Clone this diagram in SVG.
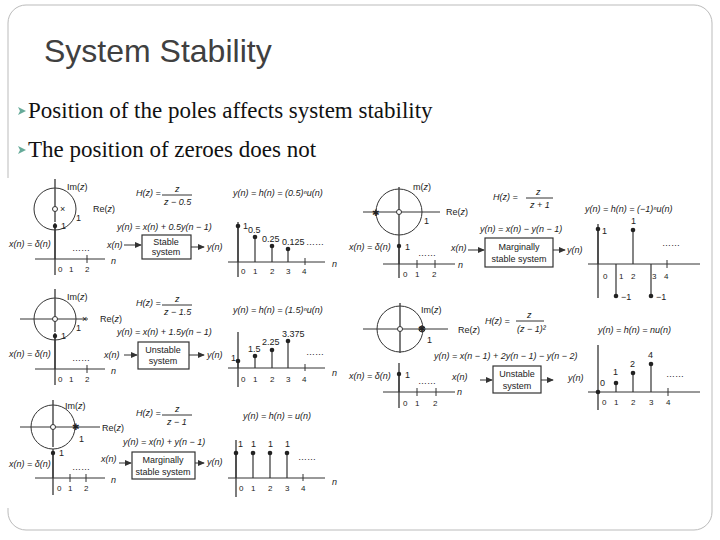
<svg xmlns="http://www.w3.org/2000/svg" width="720" height="540" viewBox="0 0 720 540">
<style>
.t{font-family:"Liberation Sans",Arial,sans-serif;font-size:9px;fill:#222}
.i{font-style:italic}
.s{font-size:8px}
.ln{stroke:#333;stroke-width:1;fill:none}
.ax{stroke:#444;stroke-width:1.4;fill:none}
.st{stroke:#333;stroke-width:1.2}
.box{fill:#fff;stroke:#333;stroke-width:1.2}
.bul{font-family:"Liberation Serif","Times New Roman",serif;font-size:23px;fill:#111}
</style>
<defs>
<marker id="ar" viewBox="0 0 8 8" refX="7" refY="4" markerWidth="7" markerHeight="7" orient="auto"><path d="M0,0.5L8,4L0,7.5z" fill="#333"/></marker>
</defs>
<rect x="8" y="5" width="704" height="525" rx="18" fill="#fff" stroke="#bbb" stroke-width="1"/>
<text x="44" y="62" style="font-family:'Liberation Sans',Arial,sans-serif;font-size:32px;fill:#404040">System Stability</text>
<g id="bullets">
<path d="M18,107l8,4l-8,4l2,-4z" fill="#6a9"/>
<text class="bul" x="28" y="118">Position of the poles affects system stability</text>
<path d="M18,146l8,4l-8,4l2,-4z" fill="#6a9"/>
<text class="bul" x="28" y="157">The position of zeroes does not</text>
</g>
<rect x="0" y="178" width="702" height="330" fill="#fff"/>

<g id="p1" transform="translate(0,175)">
<circle class="ln" cx="55" cy="34" r="21"/>
<line class="ax" x1="55" y1="4" x2="55" y2="47"/>
<circle cx="55" cy="34" r="2.5" fill="#fff" stroke="#333"/>
<text class="t" x="60" y="37">×</text>
<text class="t" x="67" y="15">Im(<tspan class="i">z</tspan>)</text>
<text class="t" x="93" y="37">Re(<tspan class="i">z</tspan>)</text>
<text class="t" x="76" y="46">1</text>
<text class="t i" x="136" y="21">H(z) =</text><text class="t i" x="175" y="17">z</text><line class="ln" x1="162" y1="20" x2="192" y2="20"/><text class="t i" x="164" y="30">z − 0.5</text>
<text class="t i" x="233" y="21">y(n) = h(n) = (0.5)ⁿu(n)</text>
<text class="t i" x="117" y="55">y(n) = x(n) + 0.5y(n − 1)</text>
<line class="ax" x1="55" y1="48" x2="55" y2="100"/><line class="ln" x1="35" y1="84" x2="105" y2="84"/>
<line class="st" x1="55" y1="51" x2="55" y2="84"/><circle cx="55" cy="51" r="2.2" fill="#222"/>
<text class="t" x="61" y="54">1</text><text class="t i" x="9" y="72">x(n) = δ(n)</text>
<line class="ln" x1="87" y1="80" x2="87" y2="88"/><text class="t" x="72" y="76">……</text>
<text class="t i" x="111" y="89">n</text>
<text class="t s" x="58" y="97">0</text><text class="t s" x="69" y="97">1</text><text class="t s" x="85" y="97">2</text>
<text class="t i" x="107" y="73">x(n)</text><line class="ln" x1="124" y1="70" x2="141" y2="70" marker-end="url(#ar)"/>
<rect class="box" x="142" y="60" width="49" height="24"/>
<text class="t" x="166" y="70" text-anchor="middle">Stable</text><text class="t" x="166" y="80" text-anchor="middle">system</text>
<line class="ln" x1="191" y1="72" x2="204" y2="72" marker-end="url(#ar)"/><text class="t i" x="207" y="75">y(n)</text>
<line class="ax" x1="238" y1="47" x2="238" y2="102"/><line class="ln" x1="228" y1="87" x2="325" y2="87"/>
<line class="st" x1="238" y1="51" x2="238" y2="87"/><circle cx="238" cy="51" r="2.3" fill="#222"/><text class="t" x="243" y="54">1</text>
<line class="st" x1="255" y1="62" x2="255" y2="87"/><circle cx="255" cy="62" r="2.3" fill="#222"/><text class="t" x="248" y="58">0.5</text>
<line class="st" x1="272" y1="71" x2="272" y2="87"/><circle cx="272" cy="71" r="2.3" fill="#222"/><text class="t" x="262" y="67">0.25</text>
<line class="st" x1="288" y1="74" x2="288" y2="87"/><circle cx="288" cy="74" r="2.3" fill="#222"/><text class="t" x="282" y="70">0.125</text>
<text class="t" x="306" y="70">……</text><line class="ln" x1="305" y1="83" x2="305" y2="90"/>
<text class="t i" x="332" y="92">n</text>
<text class="t s" x="241" y="99">0</text><text class="t s" x="253" y="99">1</text><text class="t s" x="270" y="99">2</text><text class="t s" x="286" y="99">3</text><text class="t s" x="302" y="99">4</text>
</g>

<g id="p2" transform="translate(0,285)">
<circle class="ln" cx="55" cy="34" r="21"/>
<line class="ax" x1="55" y1="4" x2="55" y2="47"/><line class="ln" x1="20" y1="34" x2="88" y2="34"/>
<circle cx="55" cy="34" r="2.5" fill="#fff" stroke="#333"/>
<text class="t" x="82" y="37">×</text>
<text class="t" x="67" y="15">Im(<tspan class="i">z</tspan>)</text>
<text class="t" x="100" y="37">Re(<tspan class="i">z</tspan>)</text>
<text class="t" x="76" y="46">1</text>
<text class="t i" x="136" y="21">H(z) =</text><text class="t i" x="175" y="17">z</text><line class="ln" x1="162" y1="20" x2="192" y2="20"/><text class="t i" x="164" y="30">z − 1.5</text>
<text class="t i" x="233" y="28">y(n) = h(n) = (1.5)ⁿu(n)</text>
<text class="t i" x="117" y="50">y(n) = x(n) + 1.5y(n − 1)</text>
<line class="ax" x1="55" y1="48" x2="55" y2="100"/><line class="ln" x1="35" y1="84" x2="105" y2="84"/>
<line class="st" x1="55" y1="51" x2="55" y2="84"/><circle cx="55" cy="51" r="2.2" fill="#222"/>
<text class="t" x="61" y="54">1</text><text class="t i" x="9" y="72">x(n) = δ(n)</text>
<line class="ln" x1="87" y1="80" x2="87" y2="88"/><text class="t" x="72" y="76">……</text>
<text class="t i" x="111" y="89">n</text>
<text class="t s" x="58" y="97">0</text><text class="t s" x="69" y="97">1</text><text class="t s" x="85" y="97">2</text>
<text class="t i" x="104" y="73">x(n)</text><line class="ln" x1="124" y1="70" x2="137" y2="70" marker-end="url(#ar)"/>
<rect class="box" x="138" y="57" width="51" height="27"/>
<text class="t" x="163" y="68" text-anchor="middle">Unstable</text><text class="t" x="163" y="79" text-anchor="middle">system</text>
<line class="ln" x1="189" y1="70" x2="204" y2="70" marker-end="url(#ar)"/><text class="t i" x="207" y="73">y(n)</text>
<line class="ax" x1="238" y1="47" x2="238" y2="102"/><line class="ln" x1="228" y1="83" x2="325" y2="83"/>
<line class="st" x1="238" y1="76" x2="238" y2="83"/><circle cx="238" cy="76" r="2.3" fill="#222"/><text class="t" x="231" y="76">1</text>
<line class="st" x1="255" y1="71" x2="255" y2="83"/><circle cx="255" cy="71" r="2.3" fill="#222"/><text class="t" x="248" y="67">1.5</text>
<line class="st" x1="272" y1="65" x2="272" y2="83"/><circle cx="272" cy="65" r="2.3" fill="#222"/><text class="t" x="262" y="60">2.25</text>
<line class="st" x1="288" y1="56" x2="288" y2="83"/><circle cx="288" cy="56" r="2.3" fill="#222"/><text class="t" x="282" y="52">3.375</text>
<text class="t" x="306" y="70">……</text><line class="ln" x1="305" y1="79" x2="305" y2="86"/>
<text class="t i" x="332" y="91">n</text>
<text class="t s" x="241" y="97">0</text><text class="t s" x="253" y="97">1</text><text class="t s" x="270" y="97">2</text><text class="t s" x="286" y="97">3</text><text class="t s" x="302" y="97">4</text>
</g>

<g id="p3" transform="translate(0,395)">
<circle class="ln" cx="53" cy="32" r="22"/>
<line class="ax" x1="53" y1="5" x2="53" y2="52"/><line class="ln" x1="20" y1="32" x2="100" y2="32"/>
<circle cx="53" cy="32" r="2.5" fill="#fff" stroke="#333"/>
<text class="t" x="72" y="35">✱</text>
<text class="t" x="65" y="14">Im(<tspan class="i">z</tspan>)</text>
<text class="t" x="102" y="36">Re(<tspan class="i">z</tspan>)</text>
<text class="t" x="79" y="47">1</text>
<text class="t i" x="136" y="21">H(z) =</text><text class="t i" x="175" y="17">z</text><line class="ln" x1="162" y1="20" x2="192" y2="20"/><text class="t i" x="167" y="30">z − 1</text>
<text class="t i" x="243" y="24">y(n) = h(n) = u(n)</text>
<text class="t i" x="123" y="50">y(n) = x(n) + y(n − 1)</text>
<line class="ax" x1="53" y1="54" x2="53" y2="100"/><line class="ln" x1="35" y1="83" x2="105" y2="83"/>
<line class="st" x1="53" y1="58" x2="53" y2="83"/><circle cx="53" cy="58" r="2.2" fill="#222"/>
<text class="t" x="59" y="61">1</text><text class="t i" x="9" y="72">x(n) = δ(n)</text>
<line class="ln" x1="70" y1="79" x2="70" y2="87"/><line class="ln" x1="86" y1="79" x2="86" y2="87"/><text class="t" x="72" y="75">……</text>
<text class="t i" x="111" y="88">n</text>
<text class="t s" x="57" y="96">0</text><text class="t s" x="68" y="96">1</text><text class="t s" x="84" y="96">2</text>
<text class="t i" x="101" y="67">x(n)</text><line class="ln" x1="119" y1="68" x2="131" y2="68" marker-end="url(#ar)"/>
<rect class="box" x="132" y="57" width="63" height="27"/>
<text class="t" x="163" y="68" text-anchor="middle">Marginally</text><text class="t" x="163" y="80" text-anchor="middle">stable system</text>
<line class="ln" x1="195" y1="68" x2="204" y2="68" marker-end="url(#ar)"/><text class="t i" x="207" y="70">y(n)</text>
<line class="ax" x1="236" y1="45" x2="236" y2="102"/><line class="ln" x1="228" y1="83" x2="325" y2="83"/>
<line class="st" x1="236" y1="58" x2="236" y2="83"/><circle cx="236" cy="58" r="2.3" fill="#222"/><text class="t" x="238" y="52">1</text>
<line class="st" x1="253" y1="58" x2="253" y2="83"/><circle cx="253" cy="58" r="2.3" fill="#222"/><text class="t" x="251" y="52">1</text>
<line class="st" x1="270" y1="58" x2="270" y2="83"/><circle cx="270" cy="58" r="2.3" fill="#222"/><text class="t" x="268" y="52">1</text>
<line class="st" x1="287" y1="58" x2="287" y2="83"/><circle cx="287" cy="58" r="2.3" fill="#222"/><text class="t" x="285" y="52">1</text>
<text class="t" x="298" y="65">……</text><line class="ln" x1="303" y1="79" x2="303" y2="86"/>
<text class="t i" x="332" y="90">n</text>
<text class="t s" x="239" y="96">0</text><text class="t s" x="251" y="96">1</text><text class="t s" x="268" y="96">2</text><text class="t s" x="285" y="96">3</text><text class="t s" x="301" y="96">4</text>
</g>

<g id="p4">
<circle class="ln" cx="399" cy="212" r="23"/>
<line class="ax" x1="399" y1="187" x2="399" y2="236"/><line class="ln" x1="363" y1="212" x2="440" y2="212"/>
<circle cx="399" cy="212" r="2.5" fill="#fff" stroke="#333"/>
<text class="t" x="372" y="216">✱</text>
<text class="t" x="413" y="190">m(<tspan class="i">z</tspan>)</text>
<text class="t" x="446" y="215">Re(<tspan class="i">z</tspan>)</text>
<text class="t" x="424" y="224">1</text>
<text class="t i" x="493" y="200">H(z) =</text><text class="t i" x="536" y="195">z</text><line class="ln" x1="526" y1="198" x2="553" y2="198"/><text class="t i" x="530" y="208">z + 1</text>
<text class="t i" x="585" y="212">y(n) = h(n) =  (−1)ⁿu(n)</text>
<text class="t i" x="480" y="232">y(n) = x(n) − y(n − 1)</text>
<line class="ax" x1="399" y1="236" x2="399" y2="278"/><line class="ln" x1="383" y1="264" x2="455" y2="264"/>
<line class="st" x1="399" y1="246" x2="399" y2="264"/><circle cx="399" cy="246" r="2.2" fill="#222"/>
<text class="t" x="405" y="250">1</text><text class="t i" x="349" y="250">x(n) = δ(n)</text>
<line class="ln" x1="417" y1="260" x2="417" y2="268"/><line class="ln" x1="435" y1="260" x2="435" y2="268"/><text class="t" x="418" y="256">……</text>
<text class="t i" x="458" y="268">n</text>
<text class="t s" x="403" y="277">0</text><text class="t s" x="415" y="277">1</text><text class="t s" x="432" y="277">2</text>
<text class="t i" x="451" y="251">x(n)</text><line class="ln" x1="468" y1="250" x2="484" y2="250" marker-end="url(#ar)"/>
<rect class="box" x="485" y="238" width="68" height="29"/>
<text class="t" x="519" y="250" text-anchor="middle">Marginally</text><text class="t" x="519" y="262" text-anchor="middle">stable system</text>
<line class="ln" x1="553" y1="250" x2="565" y2="250" marker-end="url(#ar)"/><text class="t i" x="567" y="253">y(n)</text>
<line class="ax" x1="598" y1="224" x2="598" y2="298"/><line class="ln" x1="588" y1="264" x2="700" y2="264"/>
<line class="st" x1="598" y1="229" x2="598" y2="264"/><circle cx="598" cy="229" r="2.3" fill="#222"/><text class="t" x="602" y="234">1</text>
<line class="st" x1="616" y1="264" x2="616" y2="296"/><circle cx="616" cy="296" r="2.3" fill="#222"/><text class="t" x="621" y="300">−1</text>
<line class="st" x1="633" y1="230" x2="633" y2="264"/><circle cx="633" cy="230" r="2.3" fill="#222"/><text class="t" x="631" y="224">1</text>
<line class="st" x1="651" y1="264" x2="651" y2="296"/><circle cx="651" cy="296" r="2.3" fill="#222"/><text class="t" x="656" y="300">−1</text>
<line class="ln" x1="667" y1="260" x2="667" y2="268"/><text class="t" x="662" y="246">……</text>
<text class="t s" x="603" y="279">0</text><text class="t s" x="619" y="279">1</text><text class="t s" x="631" y="279">2</text><text class="t s" x="652" y="279">3</text><text class="t s" x="664" y="279">4</text>
</g>

<g id="p5">
<circle class="ln" cx="400" cy="329" r="23"/>
<line class="ax" x1="400" y1="303" x2="400" y2="353"/><line class="ln" x1="363" y1="329" x2="448" y2="329"/>
<circle cx="400" cy="329" r="2.5" fill="#fff" stroke="#333"/>
<circle cx="422" cy="329" r="3" fill="none" stroke="#333"/><text class="t" x="418" y="332">✱</text>
<text class="t" x="421" y="313">Im(<tspan class="i">z</tspan>)</text>
<text class="t" x="458" y="333">Re(<tspan class="i">z</tspan>)</text>
<text class="t" x="427" y="343">1</text>
<text class="t i" x="485" y="324">H(z) =</text><text class="t i" x="527" y="318">z</text><line class="ln" x1="516" y1="321" x2="544" y2="321"/><text class="t i" x="517" y="332">(z − 1)²</text>
<text class="t i" x="598" y="333">y(n) = h(n) = nu(n)</text>
<text class="t i" x="434" y="359">y(n) = x(n − 1) + 2y(n − 1) − y(n − 2)</text>
<line class="ax" x1="399" y1="363" x2="399" y2="408"/><line class="ln" x1="383" y1="392" x2="455" y2="392"/>
<line class="st" x1="399" y1="374" x2="399" y2="392"/><circle cx="399" cy="374" r="2.2" fill="#222"/>
<text class="t" x="405" y="378">1</text><text class="t i" x="349" y="379">x(n) = δ(n)</text>
<line class="ln" x1="417" y1="388" x2="417" y2="396"/><line class="ln" x1="436" y1="388" x2="436" y2="396"/><text class="t" x="418" y="384">……</text>
<text class="t i" x="457" y="395">n</text>
<text class="t s" x="403" y="406">0</text><text class="t s" x="415" y="406">1</text><text class="t s" x="433" y="406">2</text>
<text class="t i" x="452" y="380">x(n)</text><line class="ln" x1="480" y1="380" x2="492" y2="380" marker-end="url(#ar)"/>
<rect class="box" x="493" y="366" width="48" height="27"/>
<text class="t" x="517" y="377" text-anchor="middle">Unstable</text><text class="t" x="517" y="389" text-anchor="middle">system</text>
<line class="ln" x1="541" y1="380" x2="553" y2="380" marker-end="url(#ar)"/><text class="t i" x="568" y="381">y(n)</text>
<line class="ax" x1="598" y1="345" x2="598" y2="410"/><line class="ln" x1="588" y1="392" x2="700" y2="392"/>
<circle cx="598" cy="392" r="2.3" fill="#222"/><text class="t" x="600" y="386">0</text>
<line class="st" x1="616" y1="383" x2="616" y2="392"/><circle cx="616" cy="383" r="2.3" fill="#222"/><text class="t" x="613" y="375">1</text>
<line class="st" x1="633" y1="373" x2="633" y2="392"/><circle cx="633" cy="373" r="2.3" fill="#222"/><text class="t" x="630" y="367">2</text>
<line class="st" x1="651" y1="364" x2="651" y2="392"/><circle cx="651" cy="364" r="2.3" fill="#222"/><text class="t" x="648" y="358">4</text>
<line class="ln" x1="668" y1="388" x2="668" y2="396"/><text class="t" x="666" y="377">……</text>
<text class="t s" x="602" y="405">0</text><text class="t s" x="614" y="405">1</text><text class="t s" x="631" y="405">2</text><text class="t s" x="649" y="405">3</text><text class="t s" x="666" y="405">4</text>
</g>
</svg>
